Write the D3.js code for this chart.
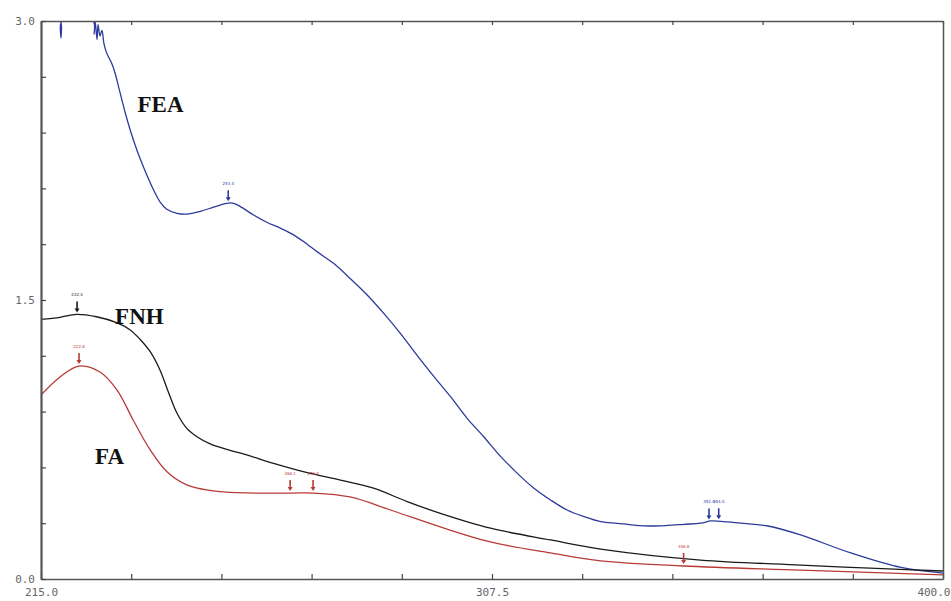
<!DOCTYPE html>
<html>
<head>
<meta charset="utf-8">
<script src="https://cdn.jsdelivr.net/npm/d3@7"></script>
<style>
  body { margin: 0; background: #fff; }
  svg { display: block; }
  .tlabel { font-family: "DejaVu Sans Mono", monospace; font-size: 11px; fill: #666; }
  .name { font-family: "Liberation Serif", "Times New Roman", serif; font-weight: bold; font-size: 23px; fill: #111; }
  .peak { font-family: "DejaVu Sans", sans-serif; font-size: 4px; }
</style>
</head>
<body>
<svg id="chart" width="951" height="601"></svg>
<script>
// spectra: [wavelength nm, absorbance]
var fea = [[215,3.0],[218.9,3.0],[219.1,2.91],[219.3,3.0],[225.7,3.0],[225.9,2.93],[226.1,3.0],
  [226.5,2.90],[226.7,2.98],[227.1,2.92],[227.5,2.95],[227.9,2.88],[228.5,2.826],[229.5,2.773],
  [230.2,2.719],[230.9,2.647],[231.6,2.575],[232.3,2.504],[233.3,2.414],[234.3,2.333],
  [235.3,2.262],[236.7,2.172],[238.1,2.091],[239.4,2.028],[240.8,1.988],[242.9,1.966],
  [244.9,1.962],[247.7,1.977],[250.4,1.999],[253.1,2.020],[254.5,2.020],[255.9,2.002],
  [258.6,1.957],[261.3,1.918],[264.1,1.886],[266.8,1.850],[269.6,1.800],[271.6,1.760],
  [275.0,1.697],[278.4,1.616],[281.9,1.527],[285.3,1.428],[288.7,1.321],[292.1,1.204],
  [295.6,1.088],[299.0,0.980],[302.4,0.864],[305.8,0.765],[309.3,0.658],[312.7,0.568],
  [316.1,0.488],[319.5,0.425],[322.9,0.371],[326.4,0.335],[329.8,0.308],[333.2,0.299],
  [336.6,0.290],[340.0,0.285],[343.5,0.288],[346.9,0.294],[350.3,0.300],[352.4,0.312],
  [354.4,0.310],[358.5,0.300],[364.1,0.285],[370.8,0.237],[381.1,0.140],[391.4,0.062],[400,0.032]];

var fnh = [[215,1.396],[218.9,1.407],[222.3,1.423],[226.4,1.410],[230.5,1.378],[233.3,1.339],
  [235.3,1.289],[237.4,1.222],[239.4,1.124],[241.1,1.007],[242.9,0.891],[244.9,0.810],
  [247.0,0.765],[249.7,0.726],[253.1,0.697],[257.2,0.667],[262.7,0.622],[269.6,0.572],
  [276.4,0.532],[283.2,0.488],[290.1,0.416],[296.9,0.353],[307.2,0.273],[319.5,0.210],
  [329.8,0.161],[350.3,0.102],[370.8,0.075],[385.0,0.058],[400,0.043]];

var fa = [[215,0.989],[218.9,1.086],[222.8,1.145],[227.1,1.113],[230.6,1.016],[233.9,0.855],
  [237.4,0.694],[240.9,0.575],[245.0,0.505],[252.4,0.468],[266.1,0.462],[270.8,0.462],
  [278.4,0.441],[286.7,0.371],[296.9,0.280],[307.2,0.199],[319.5,0.140],[329.8,0.097],
  [346.8,0.070],[370.8,0.048],[400,0.022]];

var seriesNames = ["FEA", "FNH", "FA"];
var seriesColors = {FEA: "#2c3a9e", FNH: "#1a1a1a", FA: "#b83a36"};
var seriesData = {FEA: fea, FNH: fnh, FA: fa};

// picked peaks (arrows)
var peaks = [
  {s: "FNH", nm: 222.4}, {s: "FA", nm: 222.8}, {s: "FEA", nm: 253.4},
  {s: "FA", nm: 266.1}, {s: "FA", nm: 270.8},
  {s: "FEA", nm: 352.0}, {s: "FEA", nm: 354.0}, {s: "FA", nm: 346.8}
];

// name labels [name, nm, absorbance]
var nameLabels = [["FEA", 234.8, 2.51], ["FNH", 230.2, 1.37], ["FA", 226.1, 0.62]];

var xTicks = d3.range(0, 11).map(function(i) { return 215 + i * 18.5; });
var xLabels = [215, 307.5, 400];
var yTicks = d3.range(0, 11).map(function(i) { return i * 0.3; });
var yLabels = [0, 1.5, 3.0];

var margin = {top: 21, right: 8, bottom: 22, left: 41},
    width = 951 - margin.left - margin.right,
    height = 601 - margin.top - margin.bottom;

var x = d3.scaleLinear().domain([215, 400]).range([0, width]);
var y = d3.scaleLinear().domain([0, 3]).range([height, 0]);

var svg = d3.select("#chart").append("g")
    .attr("transform", "translate(" + margin.left + "," + margin.top + ")");

svg.append("clipPath").attr("id", "plot")
  .append("rect").attr("x", 0).attr("y", 1).attr("width", width).attr("height", height - 1);

var line = d3.line()
    .x(function(d) { return x(d[0]); })
    .y(function(d) { return y(d[1]); })
    .curve(d3.curveCatmullRom.alpha(0.5));

seriesNames.forEach(function(n) {
  svg.append("path")
      .datum(seriesData[n])
      .attr("clip-path", "url(#plot)")
      .attr("fill", "none")
      .attr("stroke", seriesColors[n])
      .attr("stroke-width", 1.3)
      .attr("d", line);
});

function valueAt(data, nm) {
  var i = d3.bisector(function(d) { return d[0]; }).left(data, nm);
  if (i <= 0) return data[0][1];
  var a = data[i - 1], b = data[i];
  return a[1] + (b[1] - a[1]) * (nm - a[0]) / (b[0] - a[0]);
}

var pk = svg.selectAll(".pk").data(peaks).enter().append("g")
    .attr("transform", function(d) {
      return "translate(" + x(d.nm) + "," + (y(valueAt(seriesData[d.s], d.nm)) - 2) + ")";
    });
pk.append("line")
    .attr("y1", -11).attr("y2", -3)
    .attr("stroke", function(d) { return seriesColors[d.s]; })
    .attr("stroke-width", 1.6);
pk.append("path")
    .attr("d", "M-2.5,-4L2.5,-4L0,0Z")
    .attr("fill", function(d) { return seriesColors[d.s]; });
pk.append("text")
    .attr("class", "peak")
    .attr("y", -16)
    .attr("text-anchor", "middle")
    .attr("fill", function(d) { return seriesColors[d.s]; })
    .text(function(d) { return d.nm.toFixed(1); });

svg.selectAll(".name").data(nameLabels).enter().append("text")
    .attr("class", "name")
    .attr("x", function(d) { return x(d[1]); })
    .attr("y", function(d) { return y(d[2]); })
    .text(function(d) { return d[0]; });

// frame and axes
function fmtX(d) { return xLabels.indexOf(d) >= 0 ? d.toFixed(1) : ""; }
function fmtY(d) {
  var r = Math.round(d * 10) / 10;
  return yLabels.indexOf(r) >= 0 ? r.toFixed(1) : "";
}

var axBottom = svg.append("g")
    .attr("transform", "translate(0," + height + ")")
    .call(d3.axisBottom(x).tickValues(xTicks).tickSize(-5).tickSizeOuter(0).tickFormat(fmtX));
var axTop = svg.append("g")
    .call(d3.axisTop(x).tickValues(xTicks).tickSize(-4).tickSizeOuter(0).tickFormat(""));
var axLeft = svg.append("g")
    .call(d3.axisLeft(y).tickValues(yTicks).tickSize(-5).tickSizeOuter(0).tickFormat(fmtY));
var axRight = svg.append("g")
    .attr("transform", "translate(" + width + ",0)")
    .call(d3.axisRight(y).tickValues([]).tickSizeOuter(0));

[axBottom, axTop, axLeft, axRight].forEach(function(a) {
  a.select(".domain").attr("stroke", "#555").attr("stroke-width", 1.5);
  a.selectAll(".tick line").attr("stroke", "#444").attr("stroke-width", 1.2);
  a.selectAll("text").attr("class", "tlabel").attr("font-family", null).attr("font-size", null).attr("fill", null);
});
axLeft.select(".domain").attr("stroke-width", 2.2);
axBottom.selectAll("text").attr("dy", "1.3em");
axLeft.selectAll("text").attr("x", -6);
// last x label sits against the window edge
axBottom.selectAll(".tick text").filter(function(d) { return d === 400; })
    .attr("text-anchor", "end").attr("x", margin.right - 1);
</script>
</body>
</html>
